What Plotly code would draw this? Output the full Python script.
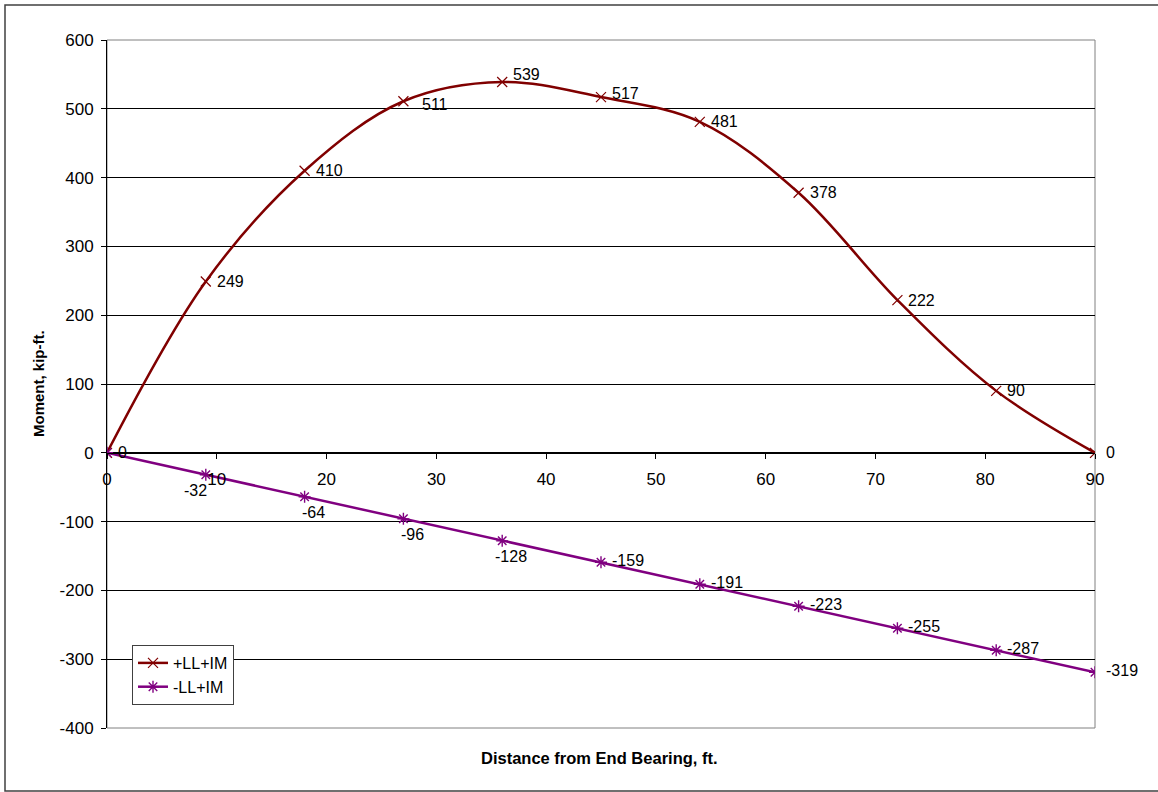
import plotly.graph_objects as go

# ---- data ----
distance_ft = [0, 9, 18, 27, 36, 45, 54, 63, 72, 81, 90]
pos_ll_im = [0, 249, 410, 511, 539, 517, 481, 378, 222, 90, 0]
neg_ll_im = [0, -32, -64, -96, -128, -159, -191, -223, -255, -287, -319]
series_names = ["+LL+IM", "-LL+IM"]
x_ticks = [0, 10, 20, 30, 40, 50, 60, 70, 80, 90]
y_ticks = [-400, -300, -200, -100, 0, 100, 200, 300, 400, 500, 600]

W, H = 1158, 792
L, R, T, B = 107, 63, 40, 64
pw, ph = W - L - R, H - T - B

def px2paper_x(px):
    return (px - L) / pw

def px2paper_y(py):
    return (H - B - py) / ph

FONT = "Arial, Liberation Sans, sans-serif"
RED = "#800000"
PURPLE = "#800080"

fig = go.Figure()
fig.add_trace(go.Scatter(
    x=distance_ft, y=pos_ll_im, name=series_names[0], mode="lines+markers",
    line=dict(color=RED, width=2.5, shape="spline", smoothing=1.0),
    marker=dict(symbol="x-thin-open", size=10, line=dict(color=RED, width=1.2), color=RED),
))
fig.add_trace(go.Scatter(
    x=distance_ft, y=neg_ll_im, name=series_names[1], mode="lines+markers",
    line=dict(color=PURPLE, width=2.5),
    marker=dict(symbol="asterisk-open", size=10, line=dict(color=PURPLE, width=1.4), color=PURPLE),
))

annotations = []
lab_font = dict(family=FONT, size=16, color="#000000")
for i, (x, y) in enumerate(zip(distance_ft, pos_ll_im)):
    xs, ys = 9, 0
    if i == 3:
        xs, ys = 17, -3
    elif i == 4:
        ys = 7
    elif i == 5:
        ys = 4
    annotations.append(dict(x=x, y=y, text=str(y), showarrow=False, xanchor="left",
                            yanchor="middle", xshift=xs, yshift=ys, font=lab_font))
for i, (x, y) in enumerate(zip(distance_ft, neg_ll_im)):
    if i == 0:
        continue
    if i <= 4:
        annotations.append(dict(x=x, y=y, text=str(y), showarrow=False, xanchor="center",
                                yanchor="top", xshift=(-10 if i == 1 else 9), yshift=-5,
                                font=lab_font))
    else:
        annotations.append(dict(x=x, y=y, text=str(y), showarrow=False, xanchor="left",
                                yanchor="middle", xshift=9, yshift=2, font=lab_font))

# axis titles
annotations.append(dict(xref="paper", yref="paper", x=px2paper_x(599), y=px2paper_y(758),
                        text="<b>Distance from End Bearing, ft.</b>", showarrow=False,
                        xanchor="center", yanchor="middle",
                        font=dict(family=FONT, size=16.5, color="#000000")))
annotations.append(dict(xref="paper", yref="paper", x=px2paper_x(38), y=0.5,
                        text="<b>Moment, kip-ft.</b>", showarrow=False, textangle=-90,
                        xanchor="center", yanchor="middle",
                        font=dict(family=FONT, size=15, color="#000000")))

shapes = [
    # plot area border
    dict(type="rect", xref="paper", yref="paper", x0=0, x1=1, y0=0, y1=1,
         line=dict(color="#808080", width=1), layer="between"),
    # outer chart border
    dict(type="rect", xref="paper", yref="paper",
         x0=px2paper_x(5), x1=px2paper_x(1161), y0=px2paper_y(791), y1=px2paper_y(5),
         line=dict(color="#404040", width=1.5), layer="below"),
]

fig.update_layout(
    width=W, height=H,
    margin=dict(l=L, r=R, t=T, b=B, autoexpand=False),
    paper_bgcolor="white", plot_bgcolor="white",
    font=dict(family=FONT, size=16, color="#000000"),
    showlegend=True,
    legend=dict(x=px2paper_x(132), y=px2paper_y(645), xanchor="left", yanchor="top",
                bgcolor="white", bordercolor="#404040", borderwidth=1,
                font=dict(family=FONT, size=16, color="#000000"),
                tracegroupgap=0, itemwidth=30),
    annotations=annotations,
    shapes=shapes,
    xaxis=dict(range=[0, 90], tickvals=x_ticks, ticktext=[str(v) for v in x_ticks],
               anchor="free", position=0.4, showline=True, linecolor="#000000", linewidth=1,
               ticks="outside", ticklen=5, tickcolor="#000000", showgrid=False,
               zeroline=False, ticklabelstandoff=6,
               tickfont=dict(family=FONT, size=17, color="#000000")),
    yaxis=dict(range=[-400, 600], tickvals=y_ticks, ticktext=[str(v) for v in y_ticks],
               showline=True, linecolor="#000000", linewidth=1,
               ticks="outside", ticklen=5, tickcolor="#000000",
               showgrid=True, gridcolor="#000000", gridwidth=1,
               zeroline=True, zerolinecolor="#000000", zerolinewidth=1,
               ticklabelstandoff=4,
               tickfont=dict(family=FONT, size=17, color="#000000")),
)

fig.write_html("out.html", config={"displayModeBar": False},
               post_script="document.body.style.margin='0px';")
